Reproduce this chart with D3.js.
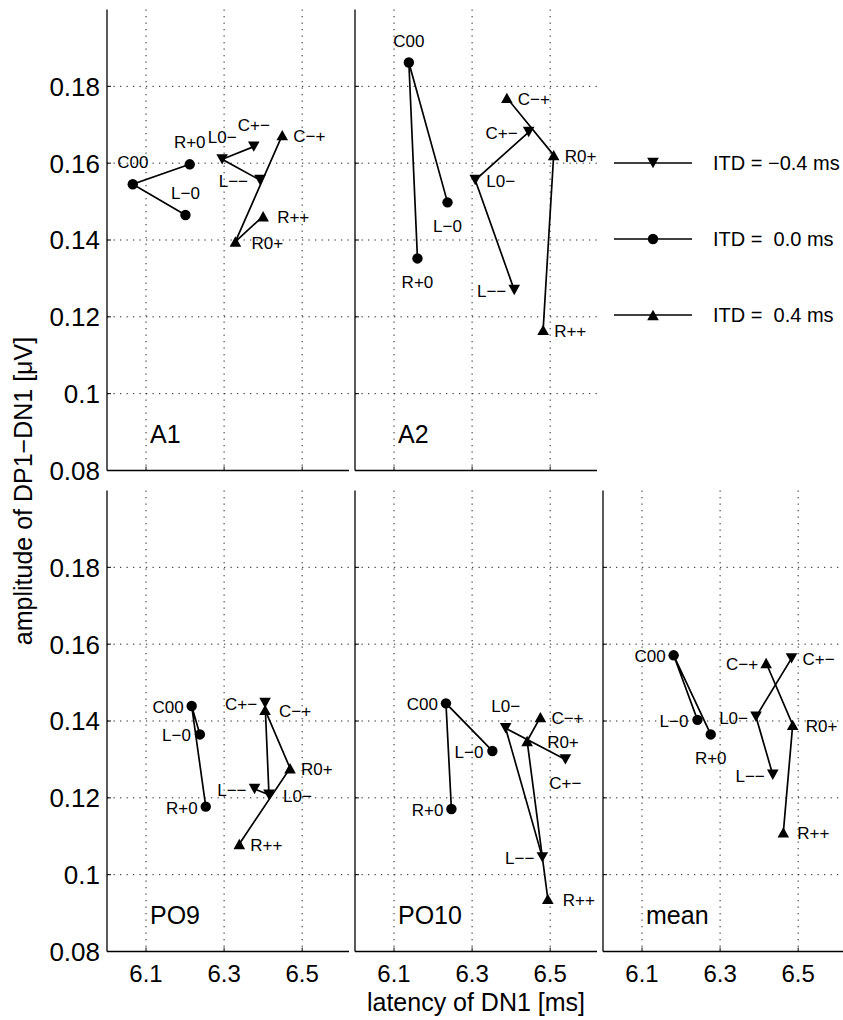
<!DOCTYPE html>
<html>
<head>
<meta charset="utf-8">
<script src="https://cdn.jsdelivr.net/npm/d3@7"></script>
<style>
  body { margin: 0; background: #fff; }
  text { font-family: "Liberation Sans", Arial, Helvetica, sans-serif; fill: #000; }
</style>
</head>
<body>
<div id="chart"></div>
<script>
// ---- data: [latency of DN1 (ms), amplitude of DP1-DN1 (uV)] ----
const panelNames = ["A1", "A2", "PO9", "PO10", "mean"];

// each series is a 3-point polyline, in the order of its labels
const labelsDown = ["C+−", "L0−", "L−−"];   // ITD = -0.4 ms
const labelsZero = ["R+0", "C00", "L−0"];   // ITD = 0.0 ms
const labelsUp   = ["C−+", "R0+", "R++"];   // ITD = 0.4 ms

const a1Down = [[6.376, 0.1643], [6.295, 0.1610], [6.392, 0.1556]];
const a1Zero = [[6.212, 0.1597], [6.066, 0.1545], [6.201, 0.1465]];
const a1Up   = [[6.449, 0.1673], [6.329, 0.1396], [6.400, 0.1462]];

const a2Down = [[6.445, 0.1681], [6.308, 0.1556], [6.408, 0.1270]];
const a2Zero = [[6.160, 0.1352], [6.138, 0.1862], [6.237, 0.1498]];
const a2Up   = [[6.389, 0.1770], [6.509, 0.1621], [6.482, 0.1166]];

const po9Down = [[6.405, 0.1447], [6.415, 0.1208], [6.378, 0.1223]];
const po9Zero = [[6.253, 0.1177], [6.217, 0.1439], [6.238, 0.1365]];
const po9Up   = [[6.405, 0.1429], [6.469, 0.1277], [6.339, 0.1080]];

const po10Down = [[6.539, 0.1300], [6.386, 0.1381], [6.480, 0.1045]];
const po10Zero = [[6.247, 0.1171], [6.233, 0.1446], [6.352, 0.1322]];
const po10Up   = [[6.475, 0.1410], [6.441, 0.1348], [6.494, 0.0937]];

const meanDown = [[6.483, 0.1563], [6.392, 0.1411], [6.435, 0.1260]];
const meanZero = [[6.276, 0.1365], [6.181, 0.1571], [6.242, 0.1403]];
const meanUp   = [[6.418, 0.1551], [6.486, 0.1390], [6.462, 0.1110]];

const xTicks = [6.1, 6.3, 6.5];
const xTickLabels = ["6.1", "6.3", "6.5"];
const yTicks = [0.08, 0.1, 0.12, 0.14, 0.16, 0.18];
const yTickLabels = ["0.08", "0.1", "0.12", "0.14", "0.16", "0.18"];
const legendLabels = ["ITD = −0.4 ms", "ITD =  0.0 ms", "ITD =  0.4 ms"];

// ---- layout ----
const W = 843, H = 1020;
const panelW = 242, panelH = 461;
const colLeft = [107, 355, 603];
const rowTop = [9.5, 490.5];
const panelPos = [[0, 0], [0, 1], [1, 0], [1, 1], [1, 2]];   // [row, col]
const seriesByPanel = [
  [a1Down, a1Zero, a1Up], [a2Down, a2Zero, a2Up],
  [po9Down, po9Zero, po9Up], [po10Down, po10Zero, po10Up],
  [meanDown, meanZero, meanUp]
];

// label placement around each point: n / s / e / w, with optional dx override
const labelPlace = [
  { "C00": "n", "R+0": "n", "L−0": "n", "L0−": "n", "C+−": "n", "L−−": ["w", -12], "C−+": "e", "R0+": ["e", 16], "R++": ["e", 14] },
  { "C00": "n", "L−0": "s", "R+0": "s", "L0−": "e", "L−−": "w", "R++": "e", "R0+": "e", "C−+": "e", "C+−": ["w", -11] },
  { "C00": "w", "L−0": ["w", -9], "R+0": "w", "C+−": "w", "C−+": ["e", 14], "R0+": "e", "L−−": "w", "L0−": ["e", 14], "R++": "e" },
  { "C00": "w", "L0−": "n", "L−0": ["w", -9], "R+0": "w", "C−+": "e", "R0+": ["e", 20], "C+−": "s", "L−−": "w", "R++": ["e", 15] },
  { "C00": "w", "C−+": "w", "C+−": "e", "L0−": "w", "L−0": ["w", -9], "R+0": "s", "R0+": ["e", 13], "L−−": "w", "R++": ["e", 14] }
];

const x = d3.scaleLinear().domain([6.0, 6.62]).range([0, panelW]);
const y = d3.scaleLinear().domain([0.08, 0.2]).range([panelH, 0]);

const svg = d3.select("#chart").append("svg")
  .attr("width", W).attr("height", H);

// marker shapes, centred on their bounding box
const markerPath = (kind) => {
  const w = 5.8, h = 5.2;
  if (kind === "down") return `M${-w},${-h}L${w},${-h}L0,${h}Z`;
  if (kind === "up") return `M0,${-h}L${w},${h}L${-w},${h}Z`;
  return null;
};
const drawMarker = (g, kind, cx, cy) => {
  if (kind === "zero") {
    g.append("circle").attr("cx", cx).attr("cy", cy).attr("r", 5.2).attr("fill", "#000");
  } else {
    g.append("path").attr("d", markerPath(kind))
      .attr("transform", `translate(${cx},${cy})`).attr("fill", "#000");
  }
};

const kinds = ["down", "zero", "up"];
const seriesLabels = [labelsDown, labelsZero, labelsUp];

const line = d3.line().x(d => x(d[0])).y(d => y(d[1]));

panelNames.forEach((name, pi) => {
  const [row, col] = panelPos[pi];
  const g = svg.append("g").attr("transform", `translate(${colLeft[col]},${rowTop[row]})`);

  // dotted grid
  g.selectAll(".gx").data(xTicks).join("line")
    .attr("x1", d => x(d)).attr("x2", d => x(d))
    .attr("y1", 0).attr("y2", panelH)
    .attr("stroke", "#222").attr("stroke-width", 1).attr("stroke-dasharray", "1.3,5.2");
  g.selectAll(".gy").data(yTicks.slice(1)).join("line")
    .attr("x1", 0).attr("x2", panelW)
    .attr("y1", d => y(d)).attr("y2", d => y(d))
    .attr("stroke", "#222").attr("stroke-width", 1).attr("stroke-dasharray", "1.3,5.2");

  // axes (left + bottom only), ticks inside
  g.append("line").attr("x1", 0).attr("x2", 0).attr("y1", 0).attr("y2", panelH)
    .attr("stroke", "#000").attr("stroke-width", 1.3);
  g.append("line").attr("x1", 0).attr("x2", panelW).attr("y1", panelH).attr("y2", panelH)
    .attr("stroke", "#000").attr("stroke-width", 1.3);
  g.selectAll(".tx").data(xTicks).join("line")
    .attr("x1", d => x(d)).attr("x2", d => x(d))
    .attr("y1", panelH).attr("y2", panelH - 4)
    .attr("stroke", "#000");
  g.selectAll(".ty").data(yTicks).join("line")
    .attr("x1", 0).attr("x2", 4)
    .attr("y1", d => y(d)).attr("y2", d => y(d))
    .attr("stroke", "#000");

  if (col === 0) {
    g.selectAll(".yl").data(yTicks).join("text")
      .attr("x", -7).attr("y", d => y(d)).attr("dy", "0.36em")
      .attr("text-anchor", "end").style("font-size", "26px")
      .text((d, i) => yTickLabels[i]);
  }
  if (row === 1) {
    g.selectAll(".xl").data(xTicks).join("text")
      .attr("x", d => x(d)).attr("y", panelH + 30)
      .attr("text-anchor", "middle").style("font-size", "24px")
      .text((d, i) => xTickLabels[i]);
  }

  // panel name
  g.append("text").attr("x", 43).attr("y", panelH - 28)
    .style("font-size", "25px").text(name);

  // series
  seriesByPanel[pi].forEach((pts, si) => {
    g.append("path").datum(pts).attr("d", line)
      .attr("fill", "none").attr("stroke", "#000").attr("stroke-width", 1.7);
    pts.forEach((p, k) => {
      const cx = x(p[0]), cy = y(p[1]);
      drawMarker(g, kinds[si], cx, cy);
      const lab = seriesLabels[si][k];
      let place = labelPlace[pi][lab];
      let dxo = null;
      if (Array.isArray(place)) { dxo = place[1]; place = place[0]; }
      let dx = 0, dy = 0, anchor = "middle";
      if (place === "n") { dy = -16; }
      else if (place === "s") { dy = 30; }
      else if (place === "e") { dx = 11; dy = 7; anchor = "start"; }
      else if (place === "w") { dx = -8; dy = 7; anchor = "end"; }
      if (dxo !== null) dx = dxo;
      g.append("text").attr("x", cx + dx).attr("y", cy + dy)
        .attr("text-anchor", anchor).style("font-size", "17px").text(lab);
    });
  });
});

// legend (in the empty top-right slot)
const legendY = [163, 239, 315];
const leg = svg.append("g");
legendLabels.forEach((lab, i) => {
  leg.append("line").attr("x1", 614).attr("x2", 692)
    .attr("y1", legendY[i]).attr("y2", legendY[i])
    .attr("stroke", "#000").attr("stroke-width", 1.3);
  drawMarker(leg, kinds[i], 653, legendY[i]);
  leg.append("text").attr("x", 713).attr("y", legendY[i]).attr("dy", "0.36em")
    .style("font-size", "20px").style("white-space", "pre").text(lab);
});

// axis titles
svg.append("text").attr("x", 476).attr("y", 1011)
  .attr("text-anchor", "middle").style("font-size", "25px")
  .text("latency of DN1 [ms]");
svg.append("text")
  .attr("transform", "translate(32,491) rotate(-90)")
  .attr("text-anchor", "middle").style("font-size", "25px")
  .text("amplitude of DP1−DN1 [μV]");
</script>
</body>
</html>
